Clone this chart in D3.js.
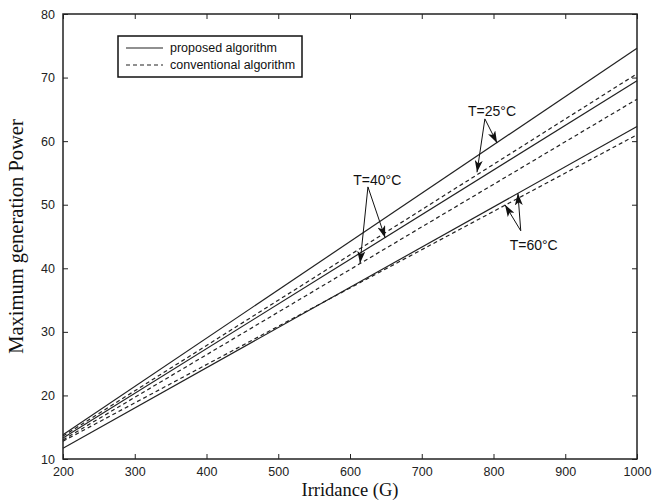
<!DOCTYPE html>
<html>
<head>
<meta charset="utf-8">
<script src="https://cdn.jsdelivr.net/npm/d3@7"></script>
<style>
  body { margin: 0; background: #fff; }
  svg { display: block; }
</style>
</head>
<body>
<svg id="chart"></svg>
<script>
// irradiance values at which each line was read
const irradiance = [200, 1000];

// maximum generation power
const proposed25 = [13.8, 74.6];
const conventional25 = [13.6, 70.6];
const proposed40 = [13.3, 69.5];
const conventional40 = [13.0, 66.6];
const proposed60 = [11.7, 62.3];
const conventional60 = [12.8, 61.0];

const xTicks = [200, 300, 400, 500, 600, 700, 800, 900, 1000];
const yTicks = [10, 20, 30, 40, 50, 60, 70, 80];

const legendLabels = ['proposed algorithm', 'conventional algorithm'];

// temperature labels: text anchor, arrow start and arrow tips (data units)
const annLabels = ['T=25°C', 'T=40°C', 'T=60°C'];
const annText = [[798, 64.7], [638, 53.9], [856, 43.7]];
const annFrom = [[788, 63.5], [625, 52.8], [838, 45.9]];
const annTips = [
  [[805, 59.7], [777, 55.1]],
  [[614, 40.8], [649, 44.8]],
  [[834, 51.8], [816, 50.0]]
];

const W = 668, H = 500;
const margin = { top: 14, right: 31, bottom: 41, left: 63 };
const width = W - margin.left - margin.right;
const height = H - margin.top - margin.bottom;

const series = [
  { values: proposed25, dashed: false },
  { values: conventional25, dashed: true },
  { values: proposed40, dashed: false },
  { values: conventional40, dashed: true },
  { values: proposed60, dashed: false },
  { values: conventional60, dashed: true }
];

const svg = d3.select('#chart')
  .attr('width', W)
  .attr('height', H);

const defs = svg.append('defs');
defs.append('marker')
  .attr('id', 'head')
  .attr('viewBox', '0 0 12 8')
  .attr('refX', 12)
  .attr('refY', 4)
  .attr('markerWidth', 12)
  .attr('markerHeight', 8)
  .attr('markerUnits', 'userSpaceOnUse')
  .attr('orient', 'auto')
  .append('path')
  .attr('d', 'M0,0 L12,4 L0,8 L3,4 Z')
  .attr('fill', '#111');

const g = svg.append('g')
  .attr('transform', `translate(${margin.left},${margin.top})`);

const x = d3.scaleLinear().domain([200, 1000]).range([0, width]);
const y = d3.scaleLinear().domain([10, 80]).range([height, 0]);

const tickFont = 'Liberation Sans, Arial, sans-serif';

// axes with inward ticks, MATLAB style
function styleAxis(sel) {
  sel.select('.domain').remove();
  sel.selectAll('line').attr('stroke', '#222').attr('stroke-width', 1);
  sel.selectAll('text')
    .attr('fill', '#222')
    .style('font-family', tickFont)
    .style('font-size', '12.5px');
}

g.append('g')
  .attr('transform', `translate(0,${height})`)
  .call(d3.axisBottom(x).tickValues(xTicks).tickSize(-5).tickPadding(8).tickFormat(d3.format('d')))
  .call(styleAxis);

g.append('g')
  .call(d3.axisLeft(y).tickValues(yTicks).tickSize(-5).tickPadding(8).tickFormat(d3.format('d')))
  .call(styleAxis);

g.append('g')
  .call(d3.axisTop(x).tickValues(xTicks).tickSize(-5).tickFormat(''))
  .call(styleAxis);

g.append('g')
  .attr('transform', `translate(${width},0)`)
  .call(d3.axisRight(y).tickValues(yTicks).tickSize(-5).tickFormat(''))
  .call(styleAxis);

// frame
g.append('rect')
  .attr('width', width)
  .attr('height', height)
  .attr('fill', 'none')
  .attr('stroke', '#222')
  .attr('stroke-width', 1.5);

const line = d3.line()
  .x(d => x(d[0]))
  .y(d => y(d[1]));

g.append('g')
  .selectAll('path')
  .data(series)
  .enter()
  .append('path')
  .attr('d', d => line(d3.zip(irradiance, d.values)))
  .attr('fill', 'none')
  .attr('stroke', '#222')
  .attr('stroke-width', 1.2)
  .attr('stroke-dasharray', d => d.dashed ? '4,3' : null);

// annotations
const ann = g.append('g');
annLabels.forEach((label, i) => {
  ann.append('text')
    .attr('x', x(annText[i][0]))
    .attr('y', y(annText[i][1]))
    .attr('dy', '0.35em')
    .attr('text-anchor', 'middle')
    .attr('fill', '#111')
    .style('font-family', tickFont)
    .style('font-size', '14px')
    .text(label);
  annTips[i].forEach(tip => {
    ann.append('line')
      .attr('x1', x(annFrom[i][0]))
      .attr('y1', y(annFrom[i][1]))
      .attr('x2', x(tip[0]))
      .attr('y2', y(tip[1]))
      .attr('stroke', '#111')
      .attr('stroke-width', 1)
      .attr('marker-end', 'url(#head)');
  });
});

// legend
const legend = g.append('g').attr('transform', 'translate(55,22)');
legend.append('rect')
  .attr('width', 184)
  .attr('height', 41)
  .attr('fill', '#fff')
  .attr('stroke', '#111')
  .attr('stroke-width', 1.5);

legendLabels.forEach((label, i) => {
  legend.append('line')
    .attr('x1', 8)
    .attr('x2', 45)
    .attr('y1', 12 + i * 17)
    .attr('y2', 12 + i * 17)
    .attr('stroke', '#222')
    .attr('stroke-width', 1.2)
    .attr('stroke-dasharray', i === 1 ? '4,3' : null);
  legend.append('text')
    .attr('x', 52)
    .attr('y', 12 + i * 17)
    .attr('dy', '0.35em')
    .attr('fill', '#111')
    .style('font-family', tickFont)
    .style('font-size', '12.5px')
    .text(label);
});

// axis titles
const titleFont = 'Liberation Serif, Times New Roman, serif';
svg.append('text')
  .attr('x', margin.left + width / 2)
  .attr('y', 496)
  .attr('text-anchor', 'middle')
  .attr('fill', '#111')
  .style('font-family', titleFont)
  .style('font-size', '18.5px')
  .text('Irridance (G)');

svg.append('text')
  .attr('transform', `translate(23,${margin.top + height / 2}) rotate(-90)`)
  .attr('text-anchor', 'middle')
  .attr('fill', '#111')
  .style('font-family', titleFont)
  .style('font-size', '20.5px')
  .text('Maximum generation Power');
</script>
</body>
</html>
